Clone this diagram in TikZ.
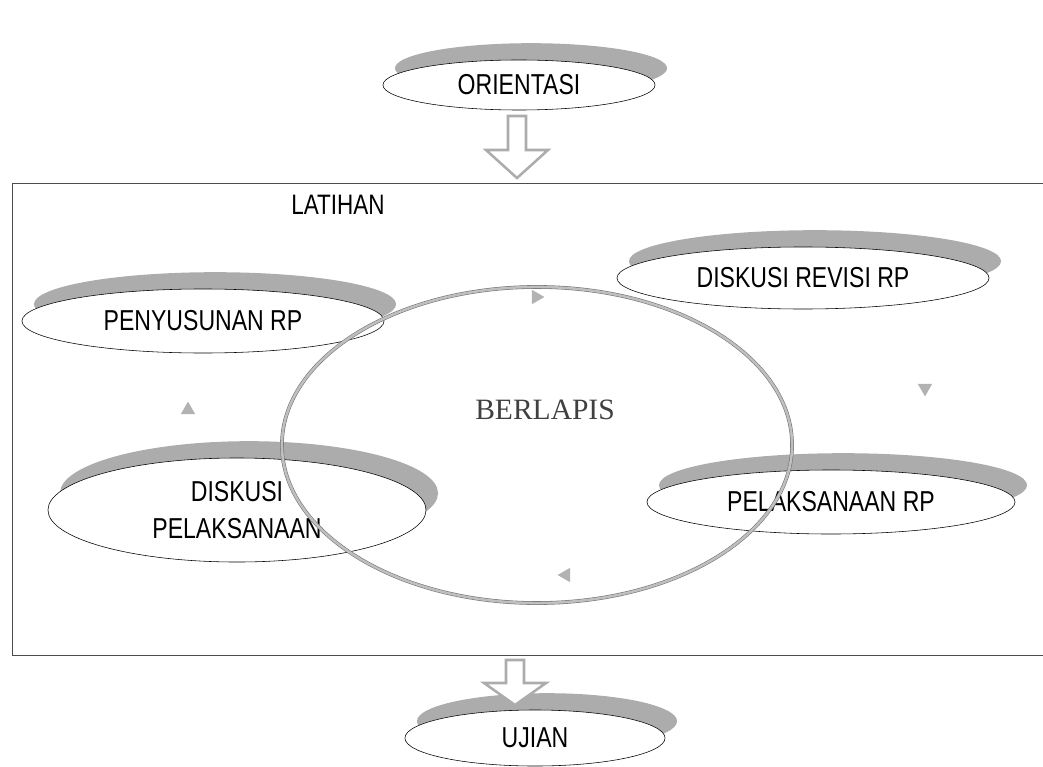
\documentclass[tikz,border=0pt]{standalone}
\usepackage{fontspec}
\setmainfont{Liberation Serif}
\setsansfont[FakeStretch=0.8]{Liberation Sans}
\usetikzlibrary{shapes.geometric,shadows,positioning}

\begin{document}
\begin{tikzpicture}[
    x=0.025cm, y=-0.025cm,
    phase/.style={draw, ellipse, fill=white, inner sep=0pt, align=center,
        font=\sffamily\fontsize{20.5}{26}\selectfont,
        drop shadow={shadow xshift=0.3cm, shadow yshift=0.42cm, fill=gray!65, opacity=1}},
    ring/.style={ellipse, draw=black!55, double=gray!50, double distance=1.8pt, line width=0.4pt, inner sep=0pt},
    hollow/.style={draw=gray!65, fill=white, line width=1.8pt, line join=miter},
    pointer/.style={regular polygon, regular polygon sides=3, fill=gray!60, inner sep=0pt, minimum size=0.42cm},
    frame/.style={draw=black!70, line width=0.6pt}
]
\useasboundingbox (0,0) rectangle (1043,767);

% phases
\node[phase, minimum width=6.8cm, minimum height=1.25cm] (orientasi) at (519,85) {ORIENTASI};
\node[phase, minimum width=9.05cm, minimum height=1.6cm] (penyusunan) at (203,321) {PENYUSUNAN RP};
\node[phase, minimum width=9.3cm, minimum height=1.55cm] (revisi) at (803,278) {DISKUSI REVISI RP};
\node[phase, minimum width=9.45cm, minimum height=2.6cm] (diskusi) at (237,510) {DISKUSI\\PELAKSANAAN};
\node[phase, minimum width=9.2cm, minimum height=1.6cm] (pelaksanaan) at (831,502) {PELAKSANAAN RP};
\node[phase, minimum width=6.5cm, minimum height=1.4cm] (ujian) at (535,738) {UJIAN};

% latihan frame
\coordinate (boxnw) at (12,183);
\draw[frame] (1043,183) -- (boxnw) |- (1043,655);
\node[font=\sffamily\fontsize{20}{22}\selectfont] (latihan) at (338,205) {LATIHAN};

% ring
\node[ring, minimum width=12.75cm, minimum height=7.9cm] (ring) at (537,445) {};
\node[font=\fontsize{21}{24}\selectfont, text=black!75] (berlapis) at (545,410) {BERLAPIS};

\node[pointer, rotate=-90] (p1) at (536,297) {};
\node[pointer, rotate=180] (p2) at (925,388) {};
\node[pointer, rotate=90] (p3) at (566,575) {};
\node[pointer] (p4) at (188,410) {};

% hollow arrows
\coordinate (in) at (517,116);
\coordinate (out) at (515,660);
\draw[hollow] (in) ++(-9,0) -- ++(0,34) -- ++(-22,0) -- ++(31,28) -- ++(31,-28) -- ++(-22,0) -- ++(0,-34) -- cycle;
\draw[hollow] (out) ++(-9,0) -- ++(0,23) -- ++(-22,0) -- ++(31,22) -- ++(31,-22) -- ++(-22,0) -- ++(0,-23) -- cycle;
\end{tikzpicture}
\end{document}
